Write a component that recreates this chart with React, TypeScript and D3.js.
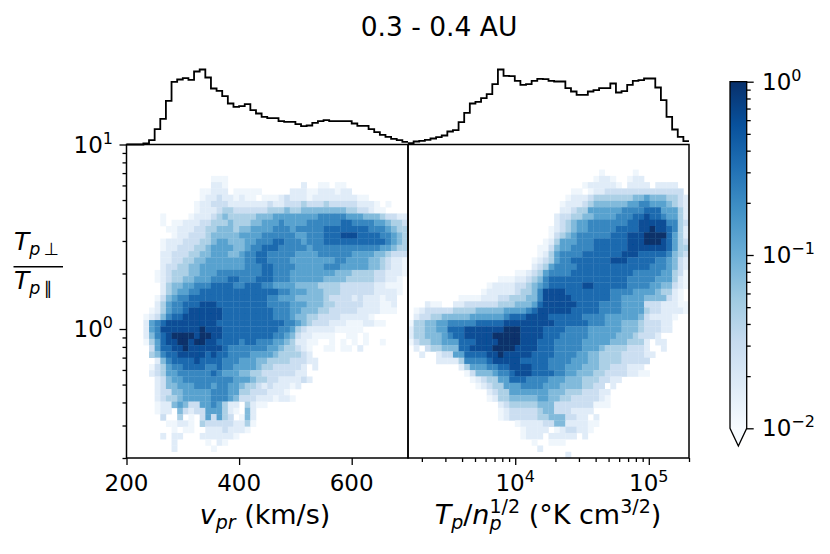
import * as d3 from "d3";
import { useEffect, useRef } from "react";

// histogram heights above the baseline (arbitrary units, one per bin)
const speedHist = [
    0, 0, 0, 3, 13, 46, 77, 131, 188, 195, 199, 194, 219, 225, 201, 168, 161, 145, 123, 113, 115, 121, 103, 93, 83, 79,
    79, 70, 68, 68, 61, 55, 57, 65, 70, 73, 70, 70, 70, 70, 63, 56, 56, 46, 37, 29, 23, 17, 13, 8,
];
const tempHist = [
    4, 9, 11, 14, 18, 22, 27, 39, 43, 67, 95, 123, 128, 139, 151, 181, 225, 206, 205, 191, 179, 181, 191, 197, 196, 191,
    189, 189, 169, 159, 149, 149, 159, 163, 169, 169, 183, 156, 160, 179, 191, 193, 198, 198, 171, 133, 83, 45, 23, 10,
];

// 50 x 50 cells, top row first. "." is empty, digits index cellLevels, spaces are only for reading
const cellLevels = [0.012, 0.017, 0.028, 0.046, 0.078, 0.128, 0.215, 0.36, 0.6, 1.0];

const speedRows = [
    "",
    "",
    "",
    "",
    "",
    "...............000",
    "...............110.............1..00.00",
    ".............00111.00000.....11100111011",
    ".............0112110100.0001211101111111100",
    "............011222111111121122232223222221110.0",
    "............0111233222222333433444444443322100",
    "......0....011123433333444555555556666655544432211",
    "......0.001112233343334455565555666666776666554332",
    ".......0011122334443445555666566666777777776665433",
    "........0112223444445555666666556667778887777665433",
    "......01112223345544455666776665666777777777776543",
    "......01122233455554456677766666566666666666655433",
    "......11222334455544566776666655556666665555443222",
    "......11223344555555566776666555555556655554432110",
    "......12233445555555566677666655555666555554432110",
    ".....0123334455566666666776665555555544433332211100",
    ".....01233445556667766677766655555544443333322110",
    "......1344556667777667776655554444333322222211000",
    "......1345566777777777777776655544433322222211110",
    ".....0245667777777777777766555444443222212111011",
    ".....1356677788877777777766665554443322222111001",
    "....01356678888887777777776665544433222221111000",
    "...01246778888888777777777666544332222111110",
    "...1567888888888777777777777665432221110001100",
    "...156888888898887777777777665321111100000",
    "...1467899998998877777777766542110000..00.0",
    "...0357889989988777767766655431100..0.0.0.0..0",
    "....25778898888887666666655433210..00.00.1",
    "....34677888887877666655554333321",
    ".....14677778777766655544333322211",
    "....0235667777667665555433222221.1",
    "....1235566666676555443322222211",
    ".....1245566666666655543322111121",
    ".....12445556665665543321211101",
    ".....122445555566655332221110",
    ".....1233455555666542221110110",
    ".....01145422556531 1.3100",
    ".....011.421225553 10.41",
    "......2..3.0.25253 2.041",
    ".......00110.32222211 30",
    "........0.00..11121110",
    "......1.11...1111110",
    "........1.....0.10",
    "........1......0",
    "",
];

const tempRows = [
    "",
    "",
    "",
    "",
    ".......... .......... .......... ....0..... 0",
    ".......... .......... .......... ...0110..0 11",
    ".......... .......... .......... .0111110.1 111.1111..",
    ".......... .......... .........0 0.01122222 222222222.",
    ".......... .......... ........01 1123333333 4454443321",
    ".......... .......... .......011 1234444445 5665554321",
    ".......... .......... .......112 3355555566 6677755531",
    ".......... .......... ......1223 3445555666 7787765531",
    ".......... .......... ......1234 5566666667 7888886632",
    ".......... .......... .....01234 5566666777 7889887631",
    ".......... .......... .....02345 6666667778 8899997531",
    ".......... .......... ....013555 6667777778 8899987532",
    ".......... .......... ...0024556 6667777778 8888887533",
    ".......... .......... ...0135666 6777777788 8777776432",
    ".......... .......... ..01235667 7777778887 7777665421",
    ".......... .......... ..12356666 7777777777 7776665421",
    ".......... .........0 0123566667 7777777777 6666655320",
    ".......... ......0001 1234677777 7777777776 6666555310",
    ".......... ....011112 2345677777 7887777776 6665544210",
    ".......... ...0111112 3346888877 7777776666 555543310.",
    ".........0 0001112233 3446888887 7777776655 55444421 0.",
    "...100..11 2222223334 4457888888 7777666655 5522211100",
    ".012222233 3344444555 5678888887 7777666655 5532211110",
    ".122334444 4555555677 7888877777 7666655555 54211110..",
    "0334455666 6677777888 8888887777 7766655544 4322211...",
    "1334455777 8888888999 8888777766 6655555544 4322211...",
    "1334445677 8888899999 8888777666 6655555444 32221.....",
    "0233445557 7788889999 8887776666 6555554443 331.11....",
    ".1.2334447 7888899998 8887776666 6555433332 221..1....",
    "..1..12255 7777889888 8877776666 5544333322 2211......",
    ".....11113 6666788888 7777766665 5544333322 222.......",
    ".........1 3555667788 8877766655 5444332221 11........",
    ".......... 0244456678 8877776655 4443322221 100.......",
    ".......... .012335577 7666655544 43332211..",
    ".......... ..01233555 6666555444 43322.1...",
    ".......... ....123355 5555544433 322211....",
    ".......... ....013344 4445544332 222210....",
    ".......... ......1233 3334442222 222000....",
    ".......... ......0122 2223442221 111.......",
    ".......... ......0122 2223344422 11.1......",
    ".......... .........0 1111224411 1100......",
    ".......... .......... 01111.0122 110.......",
    ".......... .......... 0111.11111 .1........",
    ".......... .......... ..0..000..",
    ".......... .......... ...1......",
    ".......... .......... ........1.",
];

const speedTicks = [200, 400, 600];
const tempMajor = [1e4, 1e5];
const tempMinor = [2e3, 3e3, 4e3, 5e3, 6e3, 7e3, 8e3, 9e3, 2e4, 3e4, 4e4, 5e4, 6e4, 7e4, 8e4, 9e4, 2e5];
const ratioMajor = [1, 10];
const ratioMinor = [0.2, 0.3, 0.4, 0.5, 0.6, 0.7, 0.8, 0.9, 2, 3, 4, 5, 6, 7, 8, 9];
const barMajor = [0.01, 0.1, 1];
const barMinor = [0.02, 0.03, 0.04, 0.05, 0.06, 0.07, 0.08, 0.09, 0.2, 0.3, 0.4, 0.5, 0.6, 0.7, 0.8, 0.9];
const bluesStops = [
    "#f7fbff", "#deebf7", "#c6dbef", "#9ecae1", "#6baed6", "#4292c6", "#2171b5", "#08519c", "#08306b",
];

const FONT = "DejaVu Sans";
const TICK_SIZE = 23;

function powerLabel(g: any, x: number, y: number, exp: string, anchor: string) {
    const t = g
        .append("text")
        .attr("x", x)
        .attr("y", y)
        .attr("text-anchor", anchor)
        .style("font-family", FONT)
        .style("font-size", `${TICK_SIZE}px`)
        .style("fill", "#000");
    t.append("tspan").text("10");
    t.append("tspan").attr("dy", -9).style("font-size", "16px").text(exp);
}

function drawChart(el: SVGSVGElement) {
    const svg = d3.select(el);
    svg.selectAll("*").remove();

    const top = 144.5;
    const bottom = 458;
    const leftX = [126.5, 408];
    const rightX = [408, 689];

    const xSpeed = d3.scaleLinear().domain([200, 700]).range(leftX);
    const xTemp = d3.scaleLog().domain([1575, 2e5]).range(rightX);
    const y = d3.scaleLog().domain([0.2, 10]).range([bottom, top]);

    const tScale = d3.scaleLog().domain([0.01, 1]).range([0, 1]).clamp(true);
    const blues = d3
        .scaleLinear<string>()
        .domain(bluesStops.map((_, i) => i / (bluesStops.length - 1)))
        .range(bluesStops);
    const colour = (v: number) => blues(tScale(v));

    const defs = svg.append("defs");
    defs.append("filter")
        .attr("id", "soft")
        .attr("x", "-5%")
        .attr("y", "-5%")
        .attr("width", "110%")
        .attr("height", "110%")
        .append("feGaussianBlur")
        .attr("stdDeviation", 0.45);

    const rowBand = d3.scaleBand<number>().domain(d3.range(50)).range([top, bottom]);

    const drawCells = (rows: string[], range: number[]) => {
        const colBand = d3.scaleBand<number>().domain(d3.range(50)).range(range as [number, number]);
        const cells: { c: number; r: number; v: number }[] = [];
        rows.forEach((row, r) => {
            row.replace(/ /g, "").split("").slice(0, 50).forEach((ch, c) => {
                if (ch !== ".") cells.push({ c, r, v: cellLevels[+ch] });
            });
        });
        svg.append("g")
            .attr("filter", "url(#soft)")
            .selectAll("rect")
            .data(cells)
            .join("rect")
            .attr("x", (d) => colBand(d.c)!)
            .attr("y", (d) => rowBand(d.r)!)
            .attr("width", colBand.bandwidth() + 0.3)
            .attr("height", rowBand.bandwidth() + 0.3)
            .attr("fill", (d) => colour(d.v));
    };
    drawCells(speedRows, leftX);
    drawCells(tempRows, rightX);

    // marginal histograms
    const hY = d3.scaleLinear().domain([0, 225]).range([top, top - 75]);
    const drawHist = (vals: number[], range: number[]) => {
        const colBand = d3.scaleBand<number>().domain(d3.range(50)).range(range as [number, number]);
        const pts: [number, number][] = [];
        vals.forEach((v, i) => {
            pts.push([colBand(i)!, hY(v)]);
            pts.push([colBand(i)! + colBand.bandwidth(), hY(v)]);
        });
        svg.append("path")
            .attr("d", d3.line()(pts))
            .attr("fill", "none")
            .attr("stroke", "#000")
            .attr("stroke-width", 1.8);
    };
    drawHist(speedHist, leftX);
    drawHist(tempHist, rightX);

    // spines
    [leftX, rightX].forEach((r) => {
        svg.append("rect")
            .attr("x", r[0])
            .attr("y", top)
            .attr("width", r[1] - r[0])
            .attr("height", bottom - top)
            .attr("fill", "none")
            .attr("stroke", "#000")
            .attr("stroke-width", 1.5);
    });

    const styleAxis = (g: any) => {
        g.select(".domain").remove();
        g.selectAll("line").attr("stroke", "#000").attr("stroke-width", 1.3);
        g.selectAll("text").remove();
    };

    // x axes
    const axisB = svg.append("g").attr("transform", `translate(0,${bottom})`);
    axisB.append("g").call(d3.axisBottom(xSpeed).tickValues(speedTicks).tickSize(7)).call(styleAxis);
    axisB.append("g").call(d3.axisBottom(xTemp).tickValues(tempMajor).tickSize(7)).call(styleAxis);
    axisB.append("g").call(d3.axisBottom(xTemp).tickValues(tempMinor).tickSize(4)).call(styleAxis);

    speedTicks.forEach((t) => {
        svg.append("text")
            .attr("x", xSpeed(t))
            .attr("y", 491)
            .attr("text-anchor", "middle")
            .style("font-family", FONT)
            .style("font-size", `${TICK_SIZE}px`)
            .text(t);
    });
    powerLabel(svg, xTemp(1e4), 491, "4", "middle");
    powerLabel(svg, xTemp(1e5), 491, "5", "middle");

    // y axis
    const axisL = svg.append("g").attr("transform", `translate(${leftX[0]},0)`);
    axisL.append("g").call(d3.axisLeft(y).tickValues(ratioMajor).tickSize(7)).call(styleAxis);
    axisL.append("g").call(d3.axisLeft(y).tickValues(ratioMinor).tickSize(4)).call(styleAxis);
    powerLabel(svg, 113, y(10) + 8, "1", "end");
    powerLabel(svg, 113, y(1) + 8, "0", "end");

    // colour bar
    const barY = d3.scaleLog().domain([0.01, 1]).range([428.3, 81.7]);
    const barL = 730;
    const barR = 746.7;
    const grad = defs
        .append("linearGradient")
        .attr("id", "bluesBar")
        .attr("x1", 0)
        .attr("x2", 0)
        .attr("y1", 1)
        .attr("y2", 0);
    bluesStops.forEach((c, i) => {
        grad.append("stop").attr("offset", i / (bluesStops.length - 1)).attr("stop-color", c);
    });
    svg.append("path")
        .attr("d", `M${barL},428.3 L${(barL + barR) / 2},446 L${barR},428.3 Z`)
        .attr("fill", bluesStops[0]);
    svg.append("rect")
        .attr("x", barL)
        .attr("y", barY(1))
        .attr("width", barR - barL)
        .attr("height", barY(0.01) - barY(1))
        .attr("fill", "url(#bluesBar)");
    svg.append("path")
        .attr(
            "d",
            `M${barL},428.3 L${barL},${barY(1)} L${barR},${barY(1)} L${barR},428.3 L${(barL + barR) / 2},446 Z`
        )
        .attr("fill", "none")
        .attr("stroke", "#000")
        .attr("stroke-width", 1.3);
    const axisR = svg.append("g").attr("transform", `translate(${barR},0)`);
    axisR.append("g").call(d3.axisRight(barY).tickValues(barMajor).tickSize(7)).call(styleAxis);
    axisR.append("g").call(d3.axisRight(barY).tickValues(barMinor).tickSize(4)).call(styleAxis);
    powerLabel(svg, 762, barY(1) + 8, "0", "start");
    powerLabel(svg, 762, barY(0.1) + 8, "\u22121", "start");
    powerLabel(svg, 762, barY(0.01) + 8, "\u22122", "start");

    // title and labels
    svg.append("text")
        .attr("x", 439)
        .attr("y", 36)
        .attr("text-anchor", "middle")
        .style("font-family", FONT)
        .style("font-size", "26.5px")
        .text("0.3 - 0.4 AU");

    const xlab1 = svg
        .append("text")
        .attr("x", 265)
        .attr("y", 524)
        .attr("text-anchor", "middle")
        .style("font-family", FONT)
        .style("font-size", "27px");
    xlab1.append("tspan").style("font-style", "italic").text("v");
    xlab1.append("tspan").attr("dy", 5).style("font-style", "italic").style("font-size", "19px").text("pr");
    xlab1.append("tspan").attr("dy", -5).text(" (km/s)");

    const xlab2 = svg
        .append("text")
        .attr("x", 548)
        .attr("y", 524)
        .attr("text-anchor", "middle")
        .style("font-family", FONT)
        .style("font-size", "27px");
    xlab2.append("tspan").style("font-style", "italic").text("T");
    xlab2.append("tspan").attr("dy", 5).style("font-style", "italic").style("font-size", "19px").text("p");
    xlab2.append("tspan").attr("dy", -5).text("/");
    xlab2.append("tspan").style("font-style", "italic").text("n");
    xlab2.append("tspan").attr("dy", -11).style("font-size", "19px").text("1/2");
    xlab2.append("tspan").attr("dy", 17).attr("dx", -30.6).style("font-style", "italic").style("font-size", "19px").text("p");
    xlab2.append("tspan").attr("dy", -6).attr("dx", 18.6).text(" (\u00b0K cm");
    xlab2.append("tspan").attr("dy", -11).style("font-size", "19px").text("3/2");
    xlab2.append("tspan").attr("dy", 11).text(")");

    const frac = svg.append("g").style("font-family", FONT);
    const upper = frac.append("text").attr("x", 14).attr("y", 250).style("font-size", "25px");
    upper.append("tspan").style("font-style", "italic").text("T");
    upper.append("tspan").attr("dy", 5).style("font-size", "17.5px").style("font-style", "italic").text("p");
    upper.append("tspan").attr("dx", 3).style("font-size", "17.5px").text("\u22a5");
    frac.append("line")
        .attr("x1", 13.5)
        .attr("x2", 63)
        .attr("y1", 266.7)
        .attr("y2", 266.7)
        .attr("stroke", "#000")
        .attr("stroke-width", 1.4);
    const lower = frac.append("text").attr("x", 14).attr("y", 289).style("font-size", "25px");
    lower.append("tspan").style("font-style", "italic").text("T");
    lower.append("tspan").attr("dy", 5).style("font-size", "17.5px").style("font-style", "italic").text("p");
    lower.append("tspan").attr("dx", 3).style("font-size", "17.5px").text("\u2225");
}

export default function App() {
    const ref = useRef<SVGSVGElement | null>(null);

    useEffect(() => {
        if (ref.current) drawChart(ref.current);
    }, []);

    return (
        <svg
            ref={ref}
            width={830}
            height={554}
            style={{ position: "absolute", left: 0, top: 0, background: "#fff" }}
        ></svg>
    );
}
